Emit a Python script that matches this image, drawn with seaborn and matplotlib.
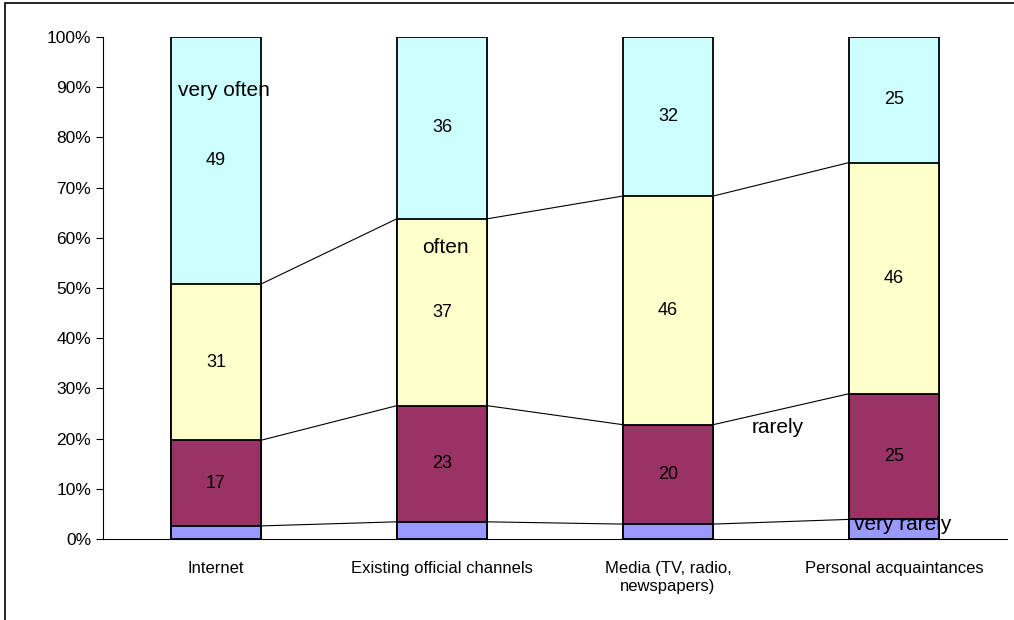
import numpy as np
import pandas as pd
import matplotlib
matplotlib.use("Agg")
import matplotlib.pyplot as plt
import seaborn as sns
from matplotlib.patches import Rectangle

categories = ["Internet", "Existing official channels", "Media (TV, radio,\nnewspapers)", "Personal acquaintances"]
series_names = ["very rarely", "rarely", "often", "very often"]
very_rarely = [2.6, 3.4, 3.0, 3.9]
rarely = [17, 23, 20, 25]
often = [31, 37, 46, 46]
very_often = [49, 36, 32, 25]
colors = ["#9999FF", "#993366", "#FFFFCC", "#CCFFFF"]
y_ticks = [0, 10, 20, 30, 40, 50, 60, 70, 80, 90, 100]

sns.set_style("white")
plt.rcParams["font.family"] = ["Liberation Sans", "DejaVu Sans"]
plt.rcParams["text.color"] = "black"
plt.rcParams["xtick.color"] = "black"
plt.rcParams["ytick.color"] = "black"
plt.rcParams["axes.labelcolor"] = "black"

raw = np.array([very_rarely, rarely, often, very_often], dtype=float)
pct = raw / raw.sum(axis=0) * 100
cum = np.cumsum(pct, axis=0)

fig = plt.figure(figsize=(10.14, 6.2), dpi=100)
ax = fig.add_axes([103/1014, 1-539/620, (1007-103)/1014, (539-37)/620])

width = 0.4
for k in range(3, -1, -1):
    df = pd.DataFrame({"cat": categories, "val": cum[k]})
    sns.barplot(data=df, x="cat", y="val", color=colors[k], width=width,
                edgecolor="black", linewidth=1.3, saturation=1, ax=ax, zorder=2)

for k in range(3):
    for i in range(3):
        ax.plot([i + width/2, i + 1 - width/2], [cum[k][i], cum[k][i+1]],
                color="black", lw=0.8, zorder=1)

for k in range(1, 4):
    for i in range(4):
        mid = cum[k][i] - pct[k][i]/2
        ax.text(i, mid, f"{raw[k][i]:.0f}", ha="center", va="center", fontsize=13, zorder=5)

ax.text(0.035, 89.3, "very often", ha="center", va="center", fontsize=15, zorder=5)
ax.text(1.013, 58.0, "often", ha="center", va="center", fontsize=15, zorder=5)
ax.text(2.487, 22.3, "rarely", ha="center", va="center", fontsize=15, zorder=5)
ax.text(3.04, 2.8, "very rarely", ha="center", va="center", fontsize=15, zorder=5)

ax.set_xlim(-0.5, 3.5)
ax.set_ylim(0, 100)
ax.set_yticks(y_ticks)
ax.set_yticklabels([f"{t}%" for t in y_ticks], fontsize=12.5)
ax.set_xticks(range(4))
ax.set_xticklabels(categories, fontsize=12)
ax.set_xticks(np.arange(-0.5, 4, 1), minor=True)
ax.tick_params(axis="x", which="major", length=0, pad=16)
ax.tick_params(axis="x", which="minor", length=6, width=0.8, direction="out", color="black")
ax.tick_params(axis="y", which="major", length=5, width=0.8, direction="out", color="black", left=True)
ax.set_xlabel("")
ax.set_ylabel("")
for s in ["top", "right"]:
    ax.spines[s].set_visible(False)
for s in ["left", "bottom"]:
    ax.spines[s].set_color("black")
    ax.spines[s].set_linewidth(0.8)

fig.patches.append(Rectangle((5/1014, -0.02), 1.0, 1 - 3/620 + 0.02, transform=fig.transFigure,
                             fill=False, edgecolor="black", lw=1.2))

fig.savefig("out.png", dpi=100)
